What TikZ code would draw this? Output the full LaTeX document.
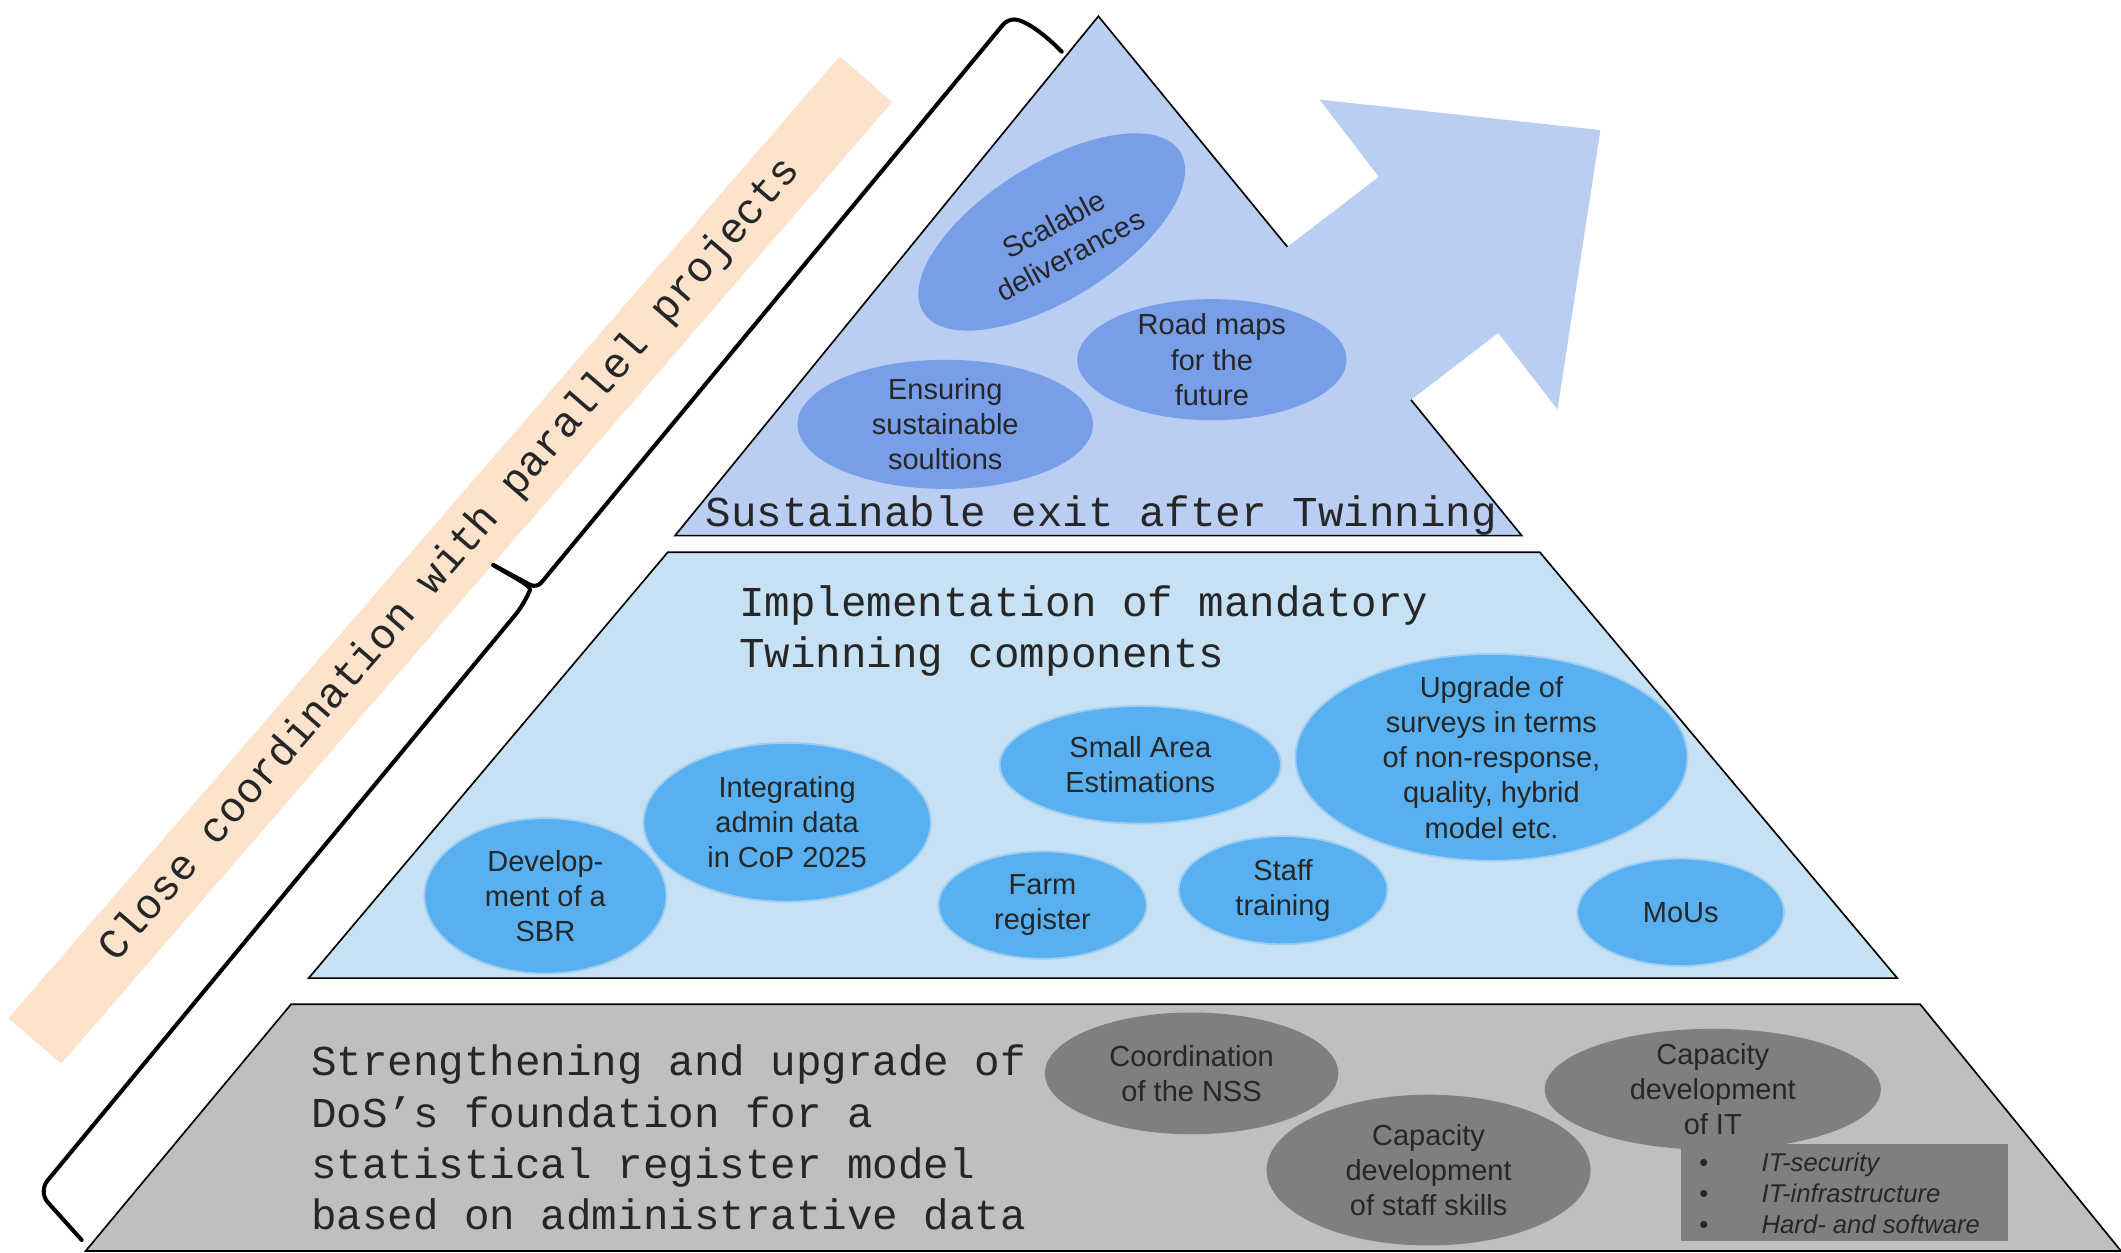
\documentclass[tikz,border=0pt]{standalone}
\usepackage{fontspec}
\setmainfont{Liberation Sans}
\setmonofont{Liberation Mono}
\usetikzlibrary{shapes,positioning}

\definecolor{peach}{RGB}{253,227,204}
\definecolor{topfill}{RGB}{186,206,244}
\definecolor{topblob}{RGB}{121,158,232}
\definecolor{midfill}{RGB}{198,225,244}
\definecolor{midblob}{RGB}{88,176,240}
\definecolor{midrim}{RGB}{160,206,242}
\definecolor{lowfill}{RGB}{191,191,191}
\definecolor{lowblob}{RGB}{127,127,127}
\definecolor{ink}{RGB}{38,38,38}

\begin{document}
\begin{tikzpicture}[x=0.02cm, y=-0.02cm,
    layer/.style={draw=black, line width=0.7pt},
    oval/.style={ellipse, inner sep=0pt},
    topoval/.style={oval, fill=topblob},
    midoval/.style={oval, fill=midblob, draw=midrim, line width=0.8pt},
    lowoval/.style={oval, fill=lowblob},
    ovaltext/.style={font=\fontsize{12.2}{14.8}\selectfont, text=ink, align=center, inner sep=0pt},
    monotext/.style={font=\ttfamily\fontsize{17.9}{21.5}\selectfont, text=ink, align=left, inner sep=0pt, anchor=base west},
    band/.style={fill=peach, rotate=49.17, minimum width=18.8cm, minimum height=1.03cm, inner sep=0pt,
      font=\ttfamily\fontsize{17.9}{21.5}\selectfont, text=ink},
    bracket/.style={line width=1.7pt, line cap=round}]
  \useasboundingbox (0,0) rectangle (1568,926);

  % side band and bracket
  \node[band] (coord) at (333,414) {Close coordination with parallel projects};
  \draw[bracket, rounded corners=3pt] (784.9,38.2) .. controls (772,25) and (758,15) .. (745,14)
    -- (396.7,434.9) -- (364.7,417.7);
  \draw[bracket, rounded corners=6pt] (364.7,417.7) .. controls (378,426) and (393,433) .. (388,446)
    -- (28.3,881) -- (60.4,916.7);

  % top layer with arrow
  \coordinate (apex) at (812,12);
  \coordinate (tl) at (499,396);
  \coordinate (tr) at (1125,396);
  \coordinate (notchA) at (951.7,182.5);
  \coordinate (notchB) at (1043.1,295.6);
  \fill[topfill] (apex) -- (tr) -- (tl) -- cycle;
  \fill[topfill] (notchA) -- (1019.3,130.7) -- (975.5,73.6) -- (1183.1,96.2) -- (1151.4,302.7)
    -- (1107.6,246.1) -- (notchB) -- (950,250) -- cycle;
  \draw[layer] (notchA) -- (apex) -- (tl) -- (tr) -- (notchB);

  \node[topoval, rotate=32, minimum width=4.48cm, minimum height=2.0cm] (scal) at (777.5,171.5) {};
  \node[ovaltext, rotate=28] (scal-t) at (785,177) {Scalable\\deliverances};
  \node[topoval, minimum width=4.37cm, minimum height=1.91cm] (ens) at (698.8,313.7) {};
  \node[ovaltext] (ens-t) at (ens) {Ensuring\\sustainable\\soultions};
  \node[topoval, minimum width=3.98cm, minimum height=1.79cm] (road) at (895.9,265.9) {};
  \node[ovaltext] (road-t) at (road) {Road maps\\for the\\future};
  \node[monotext] (exit) at (521.2,389) {Sustainable exit after Twinning};

  % middle layer
  \filldraw[layer, fill=midfill] (493.7,408.2) -- (1138.3,408.2) -- (1402.6,723.1) -- (228.2,723.1) -- cycle;
  \node[monotext] (impl) at (546.1,493.4) {Implementation of mandatory\\Twinning components};

  \node[midoval, minimum width=3.58cm, minimum height=2.30cm] (sbr) at (403.2,662.3) {};
  \node[ovaltext] (sbr-t) at (sbr) {Develop-\\ment of a\\SBR};
  \node[midoval, minimum width=4.25cm, minimum height=2.35cm] (admin) at (581.9,607.9) {};
  \node[ovaltext] (admin-t) at (admin) {Integrating\\admin data\\in CoP 2025};
  \node[midoval, minimum width=4.16cm, minimum height=1.74cm] (sae) at (843,565.4) {};
  \node[ovaltext] (sae-t) at (sae) {Small Area\\Estimations};
  \node[midoval, minimum width=3.08cm, minimum height=1.59cm] (farm) at (770.7,669.1) {};
  \node[ovaltext] (farm-t) at (farm) {Farm\\register};
  \node[midoval, minimum width=3.09cm, minimum height=1.60cm] (staff) at (948.5,658.1) {};
  \node[ovaltext] (staff-t) at (staff) {Staff\\training};
  \node[midoval, minimum width=5.80cm, minimum height=3.06cm] (surv) at (1102.6,559.9) {};
  \node[ovaltext] (surv-t) at (surv) {Upgrade of\\surveys in terms\\of non-response,\\quality, hybrid\\model etc.};
  \node[midoval, minimum width=3.06cm, minimum height=1.59cm] (mous) at (1242.5,674.4) {};
  \node[ovaltext] (mous-t) at (mous) {MoUs};

  % bottom layer
  \filldraw[layer, fill=lowfill] (215.2,742.4) -- (1419.5,742.4) -- (1568,924.8) -- (63.3,924.8) -- cycle;
  \node[monotext] (base) at (229.7,908.7) {Strengthening and upgrade of\\DoS’s foundation for a\\statistical register model\\based on administrative data};

  \node[lowoval, minimum width=4.34cm, minimum height=1.80cm] (nss) at (880.9,793.5) {};
  \node[ovaltext] (nss-t) at (nss) {Coordination\\of the NSS};
  \node[lowoval, minimum width=4.79cm, minimum height=2.23cm] (skills) at (1056.1,865) {};
  \node[ovaltext] (skills-t) at (skills) {Capacity\\development\\of staff skills};
  \node[lowoval, minimum width=4.97cm, minimum height=1.79cm] (it) at (1266.2,805.3) {};
  \node[ovaltext] (it-t) at (it) {Capacity\\development\\of IT};
  \node[fill=lowblob, minimum width=4.83cm, minimum height=1.434cm, inner sep=0pt] (itbox) at (1363.75,881.85) {};
  \node[anchor=base west, align=left, inner sep=0pt, text=ink, font=\itshape\fontsize{10.8}{13}\selectfont] (itlist) at (1256,911.8)
    {\makebox[0.92cm][l]{\upshape\textbullet}IT-security\\
     \makebox[0.92cm][l]{\upshape\textbullet}IT-infrastructure\\
     \makebox[0.92cm][l]{\upshape\textbullet}Hard- and software};
\end{tikzpicture}
\end{document}
